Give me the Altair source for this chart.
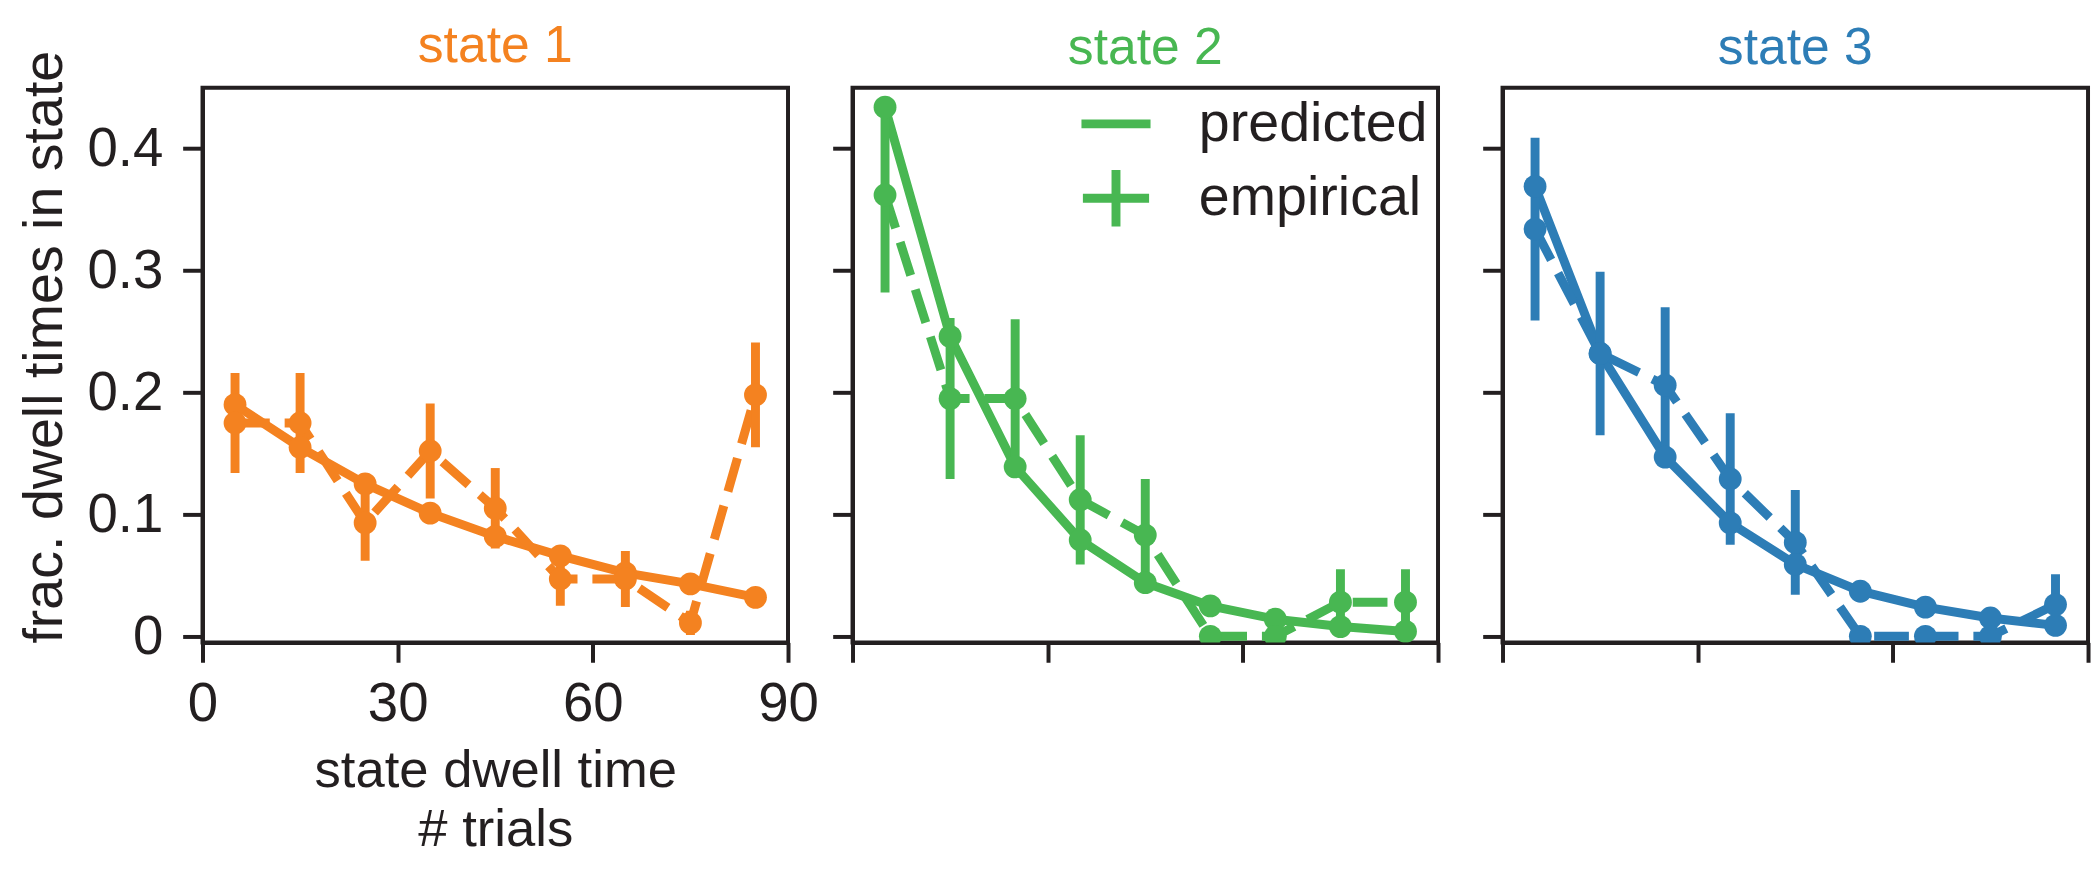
import altair as alt
import pandas as pd

# ---------------- data ----------------
x_bins = [5, 15, 25, 35, 45, 55, 65, 75, 85]
state_names = ["state 1", "state 2", "state 3"]
state_colors = ["#F48220", "#48B752", "#2D7DB6"]
series_names = ["predicted", "empirical"]

pred_state1 = [0.190, 0.155, 0.125, 0.101, 0.082, 0.066, 0.052, 0.043, 0.032]
emp_state1 = [0.175, 0.175, 0.093, 0.152, 0.105, 0.047, 0.047, 0.011, 0.198]
err_state1 = [0.041, 0.041, 0.031, 0.039, 0.033, 0.022, 0.023, 0.010, 0.043]

pred_state2 = [0.434, 0.246, 0.139, 0.079, 0.044, 0.025, 0.014, 0.008, 0.004]
emp_state2 = [0.362, 0.195, 0.195, 0.112, 0.083, 0.0, 0.0, 0.028, 0.028]
err_state2 = [0.080, 0.066, 0.065, 0.053, 0.046, 0.0, 0.0, 0.027, 0.027]

pred_state3 = [0.369, 0.232, 0.147, 0.093, 0.059, 0.037, 0.024, 0.015, 0.009]
emp_state3 = [0.334, 0.232, 0.206, 0.129, 0.077, 0.0, 0.0, 0.0, 0.026]
err_state3 = [0.075, 0.067, 0.064, 0.054, 0.043, 0.0, 0.0, 0.0, 0.025]

x_tick_values = [0, 30, 60, 90]
y_tick_values = [0, 0.1, 0.2, 0.3, 0.4]
x_title_lines = ["state dwell time", "# trials"]
y_title = "frac. dwell times in state"

preds = [pred_state1, pred_state2, pred_state3]
emps = [emp_state1, emp_state2, emp_state3]
errs = [err_state1, err_state2, err_state3]

# ---------------- styling ----------------
FONT = "Liberation Sans"
INK = "#231f20"
LW = 9
DASH = [35, 15]
PANEL_W = 590
PANEL_H = 559
TITLE_FS = 52
Y_TITLE_CENTER = 261
LINE_PATH = "M-1.2,0H1.2"
CROSS_PATH = "M-1.15,0H1.15M0,-0.98V0.98"


def build_table(pred, emp, err):
    rows = []
    for x, p in zip(x_bins, pred):
        rows.append({"x": x, "kind": "predicted", "value": p, "err": 0.0})
    for x, e, s in zip(x_bins, emp, err):
        rows.append({"x": x, "kind": "empirical", "value": e, "err": s})
    return pd.DataFrame(rows)


def make_panel(i):
    color = state_colors[i]
    first = i == 0
    df = build_table(preds[i], emps[i], errs[i])
    base = alt.Chart(df)

    if first:
        x_axis = alt.Axis(values=x_tick_values, title=x_title_lines, titleLineHeight=60,
                          titleFontSize=53, titlePadding=13, labelPadding=16)
        y_axis = alt.Axis(values=y_tick_values, title=y_title, titleY=Y_TITLE_CENTER,
                          titlePadding=14, labelPadding=20,
                          labelExpr="datum.value == 0 ? '0' : format(datum.value, '.1f')")
    else:
        x_axis = alt.Axis(values=x_tick_values, labels=False, title=None)
        y_axis = alt.Axis(values=y_tick_values, labels=False, title=None)
    xenc = alt.X("x:Q", scale=alt.Scale(domain=[0, 90], nice=False, zero=False), axis=x_axis)
    yenc = alt.Y("value:Q", scale=alt.Scale(domain=[-0.005, 0.45], nice=False, zero=False), axis=y_axis)

    pred_line = (
        base.transform_filter("datum.kind == 'predicted'")
        .mark_line(strokeWidth=LW, clip=True, color=color)
        .encode(x=xenc, y=yenc)
    )
    emp_line = (
        base.transform_filter("datum.kind == 'empirical'")
        .mark_line(strokeWidth=LW, clip=True, color=color, strokeDash=DASH)
        .encode(x="x:Q", y="value:Q")
    )
    bars = (
        base.transform_filter("datum.err > 0")
        .transform_calculate(lo="datum.value - datum.err", hi="datum.value + datum.err")
        .mark_rule(strokeWidth=LW, clip=True, color=color)
        .encode(x="x:Q", y="lo:Q", y2="hi:Q")
    )
    pts = base.mark_circle(size=530, opacity=1, clip=True, color=color).encode(x="x:Q", y="value:Q")

    layers = [pred_line, emp_line, bars, pts]
    if i == 1:
        # legend only: no rows are drawn, the shape scale lists both series
        leg = (
            base.transform_filter("false")
            .mark_point(color=color, filled=False, strokeWidth=LW)
            .encode(
                x="x:Q", y="value:Q",
                shape=alt.Shape(
                    "kind:N",
                    scale=alt.Scale(domain=series_names, range=[LINE_PATH, CROSS_PATH]),
                    legend=alt.Legend(
                        title=None, orient="none", legendX=232, legendY=3, padding=0,
                        symbolSize=3364, symbolStrokeWidth=LW, symbolStrokeColor=color,
                        symbolFillColor="transparent", symbolOpacity=1,
                        labelFont=FONT, labelFontSize=56, labelColor=INK,
                        labelOffset=50, rowPadding=0, labelLimit=0,
                    ),
                ),
            )
        )
        layers.append(leg)

    title = alt.TitleParams(
        text=state_names[i], color=color, font=FONT, fontSize=TITLE_FS, fontWeight="normal",
        anchor="middle", frame="group", offset=13, dy=35.5 if first else 0,
    )
    return alt.layer(*layers).properties(width=PANEL_W, height=PANEL_H, title=title)


left_pair = (
    alt.hconcat(make_panel(0), make_panel(1), spacing=8)
    .resolve_scale(shape="independent")
    .resolve_legend(shape="independent")
)
chart = (
    alt.hconcat(left_pair, make_panel(2), spacing=37)
    .properties(padding={"top": 6, "bottom": 1, "left": 6, "right": 0}, background="white")
    .configure_view(stroke=INK, strokeWidth=4)
    .configure_axis(
        domainColor=INK, domainWidth=4, tickColor=INK, tickWidth=4, tickSize=20,
        labelFont=FONT, labelFontSize=55, labelColor=INK,
        labelFlush=False, labelOverlap=False,
        titleFont=FONT, titleFontSize=56, titleColor=INK, titleFontWeight="normal",
        grid=False,
    )
)

chart.save("out.html", embed_options={"renderer": "svg", "actions": False})
